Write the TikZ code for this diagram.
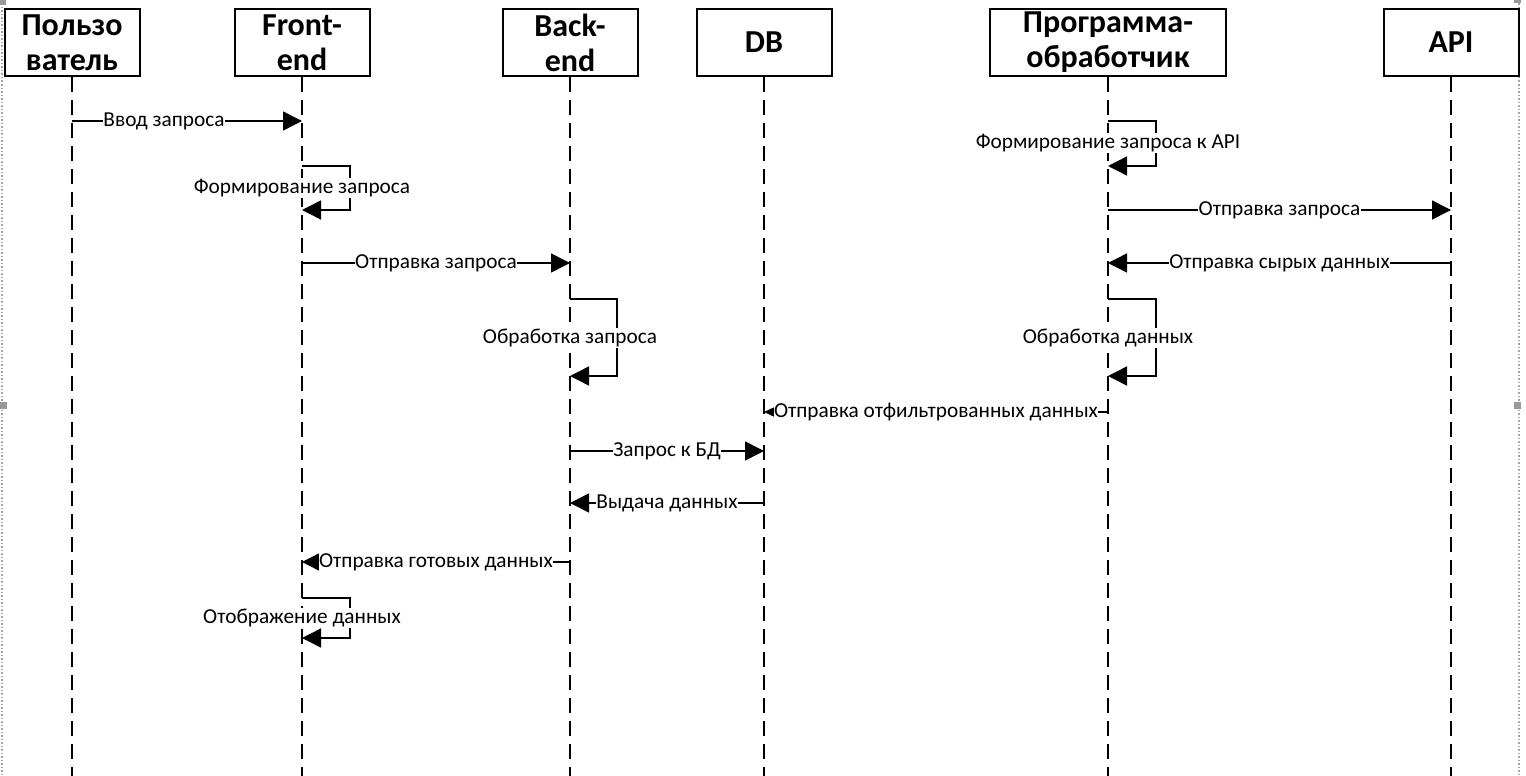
\documentclass[tikz,border=0pt]{standalone}
\usepackage{fontspec}
\setmainfont{Carlito}
\usetikzlibrary{arrows.meta,positioning,calc}

\begin{document}
\begin{tikzpicture}[x=1pt, y=-1pt,
  %% ── Node styles ──────────────────────────────────────────────────────────
  %% head : lifeline header box, 135 x 67
  head/.style={draw, line width=2pt, minimum width=135pt, minimum height=67pt,
               inner sep=0pt, align=center,
               font=\fontsize{32}{35}\selectfont\bfseries},
  lbl/.style={fill=white, inner xsep=0.5pt, inner ysep=1pt,
              font=\fontsize{21.3}{24}\selectfont},
  %% ── Line styles ──────────────────────────────────────────────────────────
  life/.style={line width=2pt, dash pattern=on 15pt off 8pt},
  msg/.style={-{Triangle[length=19pt,width=19pt]}, line width=1.5pt},
  smallmsg/.style={-{Triangle[length=10pt,width=9pt]}, line width=1.5pt}
]
\useasboundingbox (0,0) rectangle (1526,776);

%% ── Page frame (dotted, with handles) ──────────────────────────────────────
\draw[gray!70, dotted, line width=1.5pt] (2,0) -- (2,776);
\draw[gray!70, dotted, line width=1.5pt] (1519,0) -- (1519,776);
\fill[gray!80] (0,0) rectangle (6,5);
\fill[gray!80] (1514,0) rectangle (1521,3);
\fill[gray!80] (0,402) rectangle (7,409);
\fill[gray!80] (1514,402) rectangle (1521,409);

%% ── Header boxes  (y = 42.5) ───────────────────────────────────────────────
\node[head] (user) at (  72, 42.5) {Пользо\\ватель};
\node[head] (fe)   at ( 302, 42.5) {Front-\\end};
\node[head] (be)   at ( 570, 42.5) {Back-\\end};
\node[head] (db)   at ( 764, 42.5) {DB};
\node[head, minimum width=236pt] (proc) at (1108, 42.5) {Программа-\\обработчик};
\node[head] (api)  at (1451, 42.5) {API};

%% ── Lifelines ──────────────────────────────────────────────────────────────
\draw[life] (user.south) -- (user.south |- 0,776);
\draw[life] (fe.south)   -- (fe.south   |- 0,776);
\draw[life] (be.south)   -- (be.south   |- 0,776);
\draw[life] (db.south)   -- (db.south   |- 0,776);
\draw[life] (proc.south) -- (proc.south |- 0,776);
\draw[life] (api.south)  -- (api.south  |- 0,776);

%% ── User -> Front-end -> Back-end ──────────────────────────────────────────
\draw[msg] (user.south |- 0,121) -- node[lbl, pos=.4] {Ввод запроса} (fe.south |- 0,121);
\draw[msg] (fe.south |- 0,166) -- ++(48,0) |- (fe.south |- 0,210);
\node[lbl] (fe1) at (fe.south |- 0,188) {Формирование запроса};
\draw[msg] (fe.south |- 0,263) -- node[lbl] {Отправка запроса} (be.south |- 0,263);
\draw[msg] (be.south |- 0,299) -- ++(47,0) |- (be.south |- 0,376);
\node[lbl] (be1) at (be.south |- 0,338) {Обработка запроса};

%% ── Processor <-> API ──────────────────────────────────────────────────────
\draw[msg] (proc.south |- 0,121) -- ++(48,0) |- (proc.south |- 0,166);
\node[lbl] (pr1) at (proc.south |- 0,143) {Формирование запроса к API};
\draw[msg] (proc.south |- 0,210) -- node[lbl] {Отправка запроса} (api.south |- 0,210);
\draw[msg] (api.south |- 0,263) -- node[lbl] {Отправка сырых данных} (proc.south |- 0,263);
\draw[msg] (proc.south |- 0,299) -- ++(48,0) |- (proc.south |- 0,376);
\node[lbl] (pr2) at (proc.south |- 0,338) {Обработка данных};

%% ── Data back to the user ──────────────────────────────────────────────────
\draw[smallmsg] (proc.south |- 0,412) -- node[lbl] {Отправка отфильтрованных данных} (db.south |- 0,412);
\draw[msg] (be.south |- 0,451) -- node[lbl] {Запрос к БД} (db.south |- 0,451);
\draw[msg] (db.south |- 0,503) -- node[lbl] {Выдача данных} (be.south |- 0,503);
\draw[msg] (be.south |- 0,562) -- node[lbl] {Отправка готовых данных} (fe.south |- 0,562);
\draw[msg] (fe.south |- 0,598) -- ++(48,0) |- (fe.south |- 0,638);
\node[lbl] (fe2) at (fe.south |- 0,618) {Отображение данных};

\end{tikzpicture}
\end{document}
